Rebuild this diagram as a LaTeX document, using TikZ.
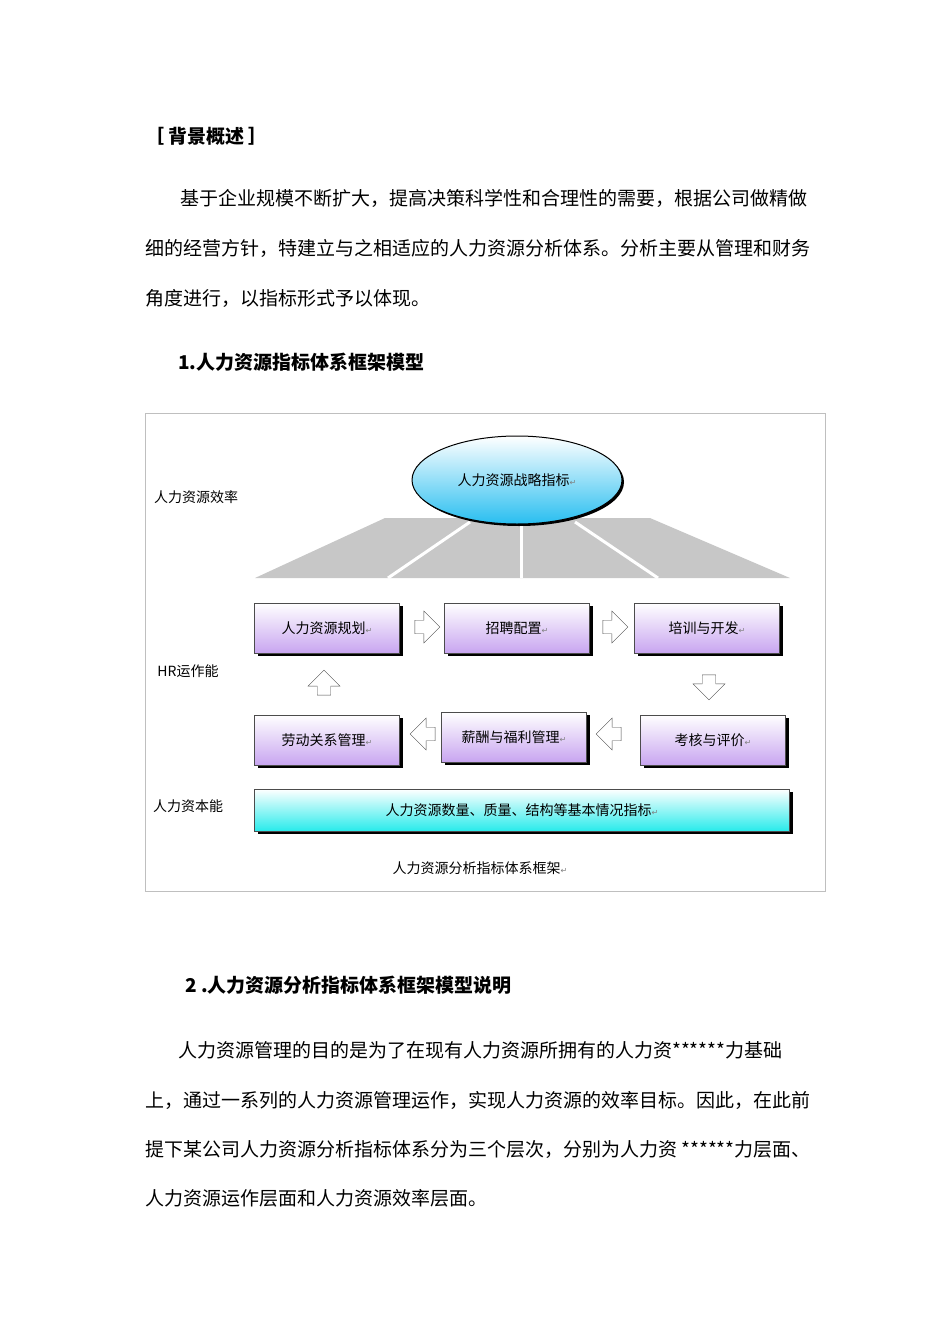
\documentclass[tikz,border=0pt]{standalone}
\usepackage{fontspec}
\setmainfont{Noto Sans CJK SC}
\newfontfamily\dv{DejaVu Sans}
\usetikzlibrary{shapes.arrows,shapes.geometric,shadows}
\newcommand{\rt}{{\dv\fontsize{8}{8}\selectfont\textcolor{gray}{↵}}}
\begin{document}
\begin{tikzpicture}[x=1pt,y=-1pt,
 body/.style={anchor=west,font=\fontsize{19}{19}\selectfont,inner sep=0},
 bold/.style={body,font=\fontsize{19}{19}\selectfont\bfseries},
 pbox/.style={draw=black!70,minimum width=145,minimum height=50,top color=white,bottom color={rgb,255:red,200;green,165;blue,240},drop shadow={shadow xshift=3pt,shadow yshift=-3pt,fill=black,opacity=1},font=\fontsize{14}{14}\selectfont},
 harrow/.style={single arrow,draw=black!70,fill=white,minimum height=25,minimum width=32,single arrow head extend=3pt,inner sep=2pt},
 lab/.style={font=\fontsize{14}{14}\selectfont}]
\useasboundingbox (0,0) rectangle (950,1344);
\node[bold] (h1) at (145,136) {［ 背景概述 ］};
\node[body] (p1) at (180,198) {基于企业规模不断扩大，提高决策科学性和合理性的需要，根据公司做精做};
\node[body] (p2) at (145,248) {细的经营方针，特建立与之相适应的人力资源分析体系。分析主要从管理和财务};
\node[body] (p3) at (145,298) {角度进行，以指标形式予以体现。};
\node[bold] (h2) at (178,362) {1.人力资源指标体系框架模型};
\draw[black!25] (145,413) rectangle (825,891);
\fill[black!22] (255,578) -- (385,518) -- (650,518) -- (790,578) -- cycle;
\draw[white,line width=3] (470,522) -- (388,578);
\draw[white,line width=3] (521,522) -- (521,578);
\draw[white,line width=3] (575,522) -- (658,578);
\node[ellipse,draw=black,line width=1,minimum width=210,minimum height=88,top color=white,bottom color={rgb,255:red,40;green,190;blue,240},drop shadow={shadow xshift=2pt,shadow yshift=-2pt,fill=black,opacity=1},lab] (e) at (517,480) {人力资源战略指标\rt};
\node[lab] (l1) at (196,497) {人力资源效率};
\node[lab] (l2) at (188,671) {HR运作能};
\node[lab] (l3) at (188,806) {人力资本能};
\node[pbox] (b1) at (327,628) {人力资源规划\rt};
\node[pbox] (b2) at (517,628) {招聘配置\rt};
\node[pbox] (b3) at (707,628) {培训与开发\rt};
\node[pbox] (b4) at (327,740) {劳动关系管理\rt};
\node[pbox] (b5) at (514,737) {薪酬与福利管理\rt};
\node[pbox] (b6) at (713,740) {考核与评价\rt};
\node[harrow] (a1) at (424,627) {};
\node[harrow] (a2) at (612,627) {};
\node[harrow,shape border rotate=270] (a3) at (709,684) {};
\node[harrow,shape border rotate=180] (a4) at (612,734) {};
\node[harrow,shape border rotate=180] (a5) at (426,734) {};
\node[harrow,shape border rotate=90] (a6) at (324,686) {};
\node[draw=black!70,minimum width=535,minimum height=42,top color=white,bottom color={rgb,255:red,40;green,235;blue,235},drop shadow={shadow xshift=3pt,shadow yshift=-3pt,fill=black,opacity=1},lab] (bar) at (522,810) {人力资源数量、质量、结构等基本情况指标\rt};
\node[lab] (cap) at (480,868) {人力资源分析指标体系框架\rt};
\node[bold] (h3) at (185,985) {2 .人力资源分析指标体系框架模型说明};
\node[body] (q1) at (178,1050) {人力资源管理的目的是为了在现有人力资源所拥有的人力资******力基础};
\node[body] (q2) at (145,1100) {上，通过一系列的人力资源管理运作，实现人力资源的效率目标。因此，在此前};
\node[body] (q3) at (145,1150) {提下某公司人力资源分析指标体系分为三个层次，分别为人力资 ******力层面、};
\node[body] (q4) at (145,1198) {人力资源运作层面和人力资源效率层面。};
\end{tikzpicture}
\end{document}
